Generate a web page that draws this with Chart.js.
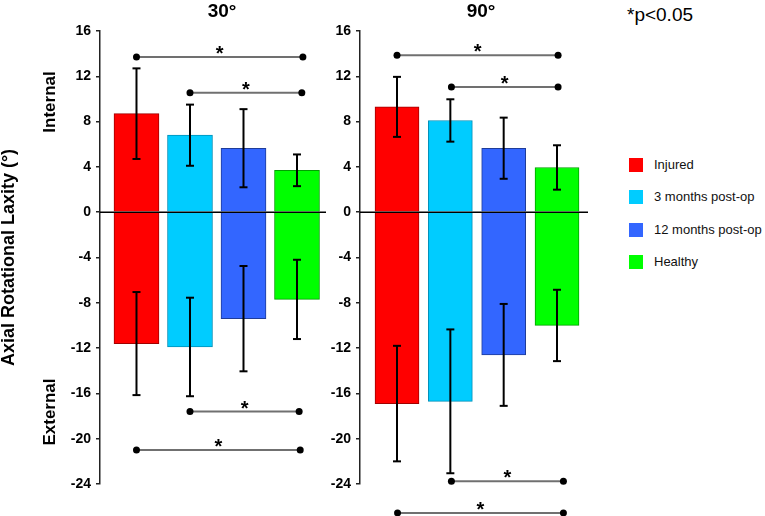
<!DOCTYPE html>
<html>
<head>
<meta charset="utf-8">
<script src="https://cdn.jsdelivr.net/npm/chart.js@4.4.0/dist/chart.umd.min.js"></script>
<style>
  body { margin: 0; background: #fff; font-family: Arial, "Liberation Sans", sans-serif; }
  #wrap { position: relative; width: 765px; height: 516px; overflow: hidden; }
  canvas { position: absolute; top: 0; }
  #c30 { left: 0; }
  #c90 { left: 325px; }
  #pval { position: absolute; left: 627px; top: 4px; font-size: 19px; color: #000; }
  .leg { position: absolute; left: 629px; font-size: 13px; line-height: 14px; color: #111; white-space: nowrap; }
  .leg span { display: inline-block; width: 14px; height: 14px; vertical-align: top; margin-right: 11px; }
</style>
</head>
<body>
<div id="wrap">
  <canvas id="c30" width="335" height="516"></canvas>
  <canvas id="c90" width="270" height="516"></canvas>
  <div id="pval">*p&lt;0.05</div>
  <div id="legend"></div>
</div>
<script>
var groups = ["Injured", "3 months post-op", "12 months post-op", "Healthy"];
var fillColors = ["#ff0000", "#00ccff", "#3366ff", "#00ff00"];
var edgeColors = ["#a00000", "#0090b8", "#1f3c99", "#00a000"];
var yTicks = [-24, -20, -16, -12, -8, -4, 0, 4, 8, 12, 16];

// 30 degrees: means and SD (degrees)
var internal30 = [8.7, 6.8, 5.65, 3.7];
var internalSd30 = [4.0, 2.7, 3.45, 1.4];
var external30 = [-11.6, -11.9, -9.4, -7.7];
var externalSd30 = [4.55, 4.35, 4.65, 3.5];

// 90 degrees
var internal90 = [9.3, 8.1, 5.65, 3.95];
var internalSd90 = [2.65, 1.87, 2.7, 1.96];
var external90 = [-16.9, -16.7, -12.6, -10.0];
var externalSd90 = [5.1, 6.35, 4.5, 3.15];

// significance brackets: [from group, to group, y value]
var sig30 = [[0, 3.11, 13.7], [1, 3.09, 10.55], [1, 3.04, -17.6], [0, 3.06, -21.0]];
var sig90 = [[0, 3.02, 13.85], [1.02, 3.02, 11.05], [1.02, 3.12, -23.75], [0.01, 3.12, -26.55]];

Chart.defaults.font.family = 'Arial, "Liberation Sans", sans-serif';

function points(vals) {
  return vals.map(function (v, i) { return { x: i, y: v }; });
}

function line(ctx, x1, y1, x2, y2) {
  ctx.beginPath();
  ctx.moveTo(x1, y1);
  ctx.lineTo(x2, y2);
  ctx.stroke();
}

function makeExtras(cfg) {
  return {
    id: 'extras',
    afterDatasetsDraw: function (chart) {
      var ctx = chart.ctx, xs = chart.scales.x, ys = chart.scales.y, area = chart.chartArea;
      ctx.save();

      // zero line
      ctx.strokeStyle = '#000';
      ctx.lineWidth = 1.5;
      var y0 = ys.getPixelForValue(0);
      line(ctx, area.left, y0, area.right, y0);

      // error bars
      ctx.lineWidth = 2;
      ctx.strokeStyle = '#000';
      cfg.errors.forEach(function (e) {
        e[0].forEach(function (m, i) {
          var px = xs.getPixelForValue(i);
          var top = ys.getPixelForValue(m + e[1][i]);
          var bot = ys.getPixelForValue(m - e[1][i]);
          line(ctx, px, top, px, bot);
          line(ctx, px - 4, top, px + 4, top);
          line(ctx, px - 4, bot, px + 4, bot);
        });
      });

      // brackets
      cfg.sig.forEach(function (s) {
        var xa = xs.getPixelForValue(s[0]), xb = xs.getPixelForValue(s[1]);
        var py = ys.getPixelForValue(s[2]);
        ctx.strokeStyle = '#707070';
        ctx.lineWidth = 2;
        line(ctx, xa, py, xb, py);
        ctx.fillStyle = '#000';
        [xa, xb].forEach(function (px) {
          ctx.beginPath();
          ctx.arc(px, py, 3.5, 0, Math.PI * 2);
          ctx.fill();
        });
        ctx.font = 'bold 20px Arial, "Liberation Sans", sans-serif';
        ctx.textAlign = 'center';
        ctx.textBaseline = 'alphabetic';
        ctx.fillText('*', (xa + xb) / 2, py + 3);
      });

      // panel title
      ctx.fillStyle = '#000';
      ctx.font = 'bold 19px Arial, "Liberation Sans", sans-serif';
      ctx.textAlign = 'center';
      ctx.fillText(cfg.title, cfg.titleX, 17);

      // internal / external labels
      if (cfg.sides) {
        ctx.font = 'bold 17px Arial, "Liberation Sans", sans-serif';
        ctx.textBaseline = 'middle';
        [['Internal', 102], ['External', 412]].forEach(function (t) {
          ctx.save();
          ctx.translate(50, t[1]);
          ctx.rotate(-Math.PI / 2);
          ctx.fillText(t[0], 0, 0);
          ctx.restore();
        });
      }
      ctx.restore();
    }
  };
}

function setPanel(id, cfg) {
  new Chart(document.getElementById(id), {
    type: 'bar',
    data: {
      datasets: [{
        data: points(cfg.internal),
        backgroundColor: fillColors,
        borderColor: edgeColors,
        borderWidth: 1,
        barThickness: cfg.barWidth,
        grouped: false
      }, {
        data: points(cfg.external),
        backgroundColor: fillColors,
        borderColor: edgeColors,
        borderWidth: 1,
        barThickness: cfg.barWidth,
        grouped: false
      }]
    },
    options: {
      responsive: false,
      devicePixelRatio: 1,
      animation: false,
      layout: { padding: { left: 0, right: cfg.padRight, top: 31, bottom: 32 } },
      plugins: { legend: { display: false }, tooltip: { enabled: false }, title: { display: false } },
      scales: {
        x: { type: 'linear', offset: false, min: cfg.xMin, max: cfg.xMax, display: false },
        y: {
          min: -24,
          max: 16,
          afterBuildTicks: function (s) { s.ticks = yTicks.map(function (v) { return { value: v }; }); },
          afterFit: function (s) { s.width = cfg.axisWidth; },
          border: { display: true, color: '#222', width: 1.5 },
          grid: { drawOnChartArea: false, drawTicks: true, tickLength: 4, color: '#222', lineWidth: 1.5 },
          ticks: { padding: 5, color: '#000', font: { size: 14, weight: 'bold' } },
          title: {
            display: cfg.yTitle,
            text: 'Axial Rotational Laxity (°)',
            color: '#000',
            padding: { top: 0, bottom: 0 },
            font: { size: 18, weight: 'bold', lineHeight: 1 }
          }
        }
      }
    },
    plugins: [makeExtras(cfg)]
  });
}

setPanel('c30', {
  internal: internal30, external: external30,
  errors: [[internal30, internalSd30], [external30, externalSd30]],
  sig: sig30, title: '30°', titleX: 222, sides: true, yTitle: true,
  axisWidth: 100, padRight: 9, xMin: -0.682, xMax: 3.542, barWidth: 45
});

setPanel('c90', {
  internal: internal90, external: external90,
  errors: [[internal90, internalSd90], [external90, externalSd90]],
  sig: sig90, title: '90°', titleX: 156, sides: false, yTitle: false,
  axisWidth: 35, padRight: 7, xMin: -0.694, xMax: 3.581, barWidth: 44
});

var legendHtml = "";
groups.forEach(function (g, i) {
  legendHtml += '<div class="leg" style="top:' + (158 + i * 32.3) + 'px"><span style="background:' + fillColors[i] + '"></span>' + g + '</div>';
});
document.getElementById('legend').innerHTML = legendHtml;
</script>
</body>
</html>
